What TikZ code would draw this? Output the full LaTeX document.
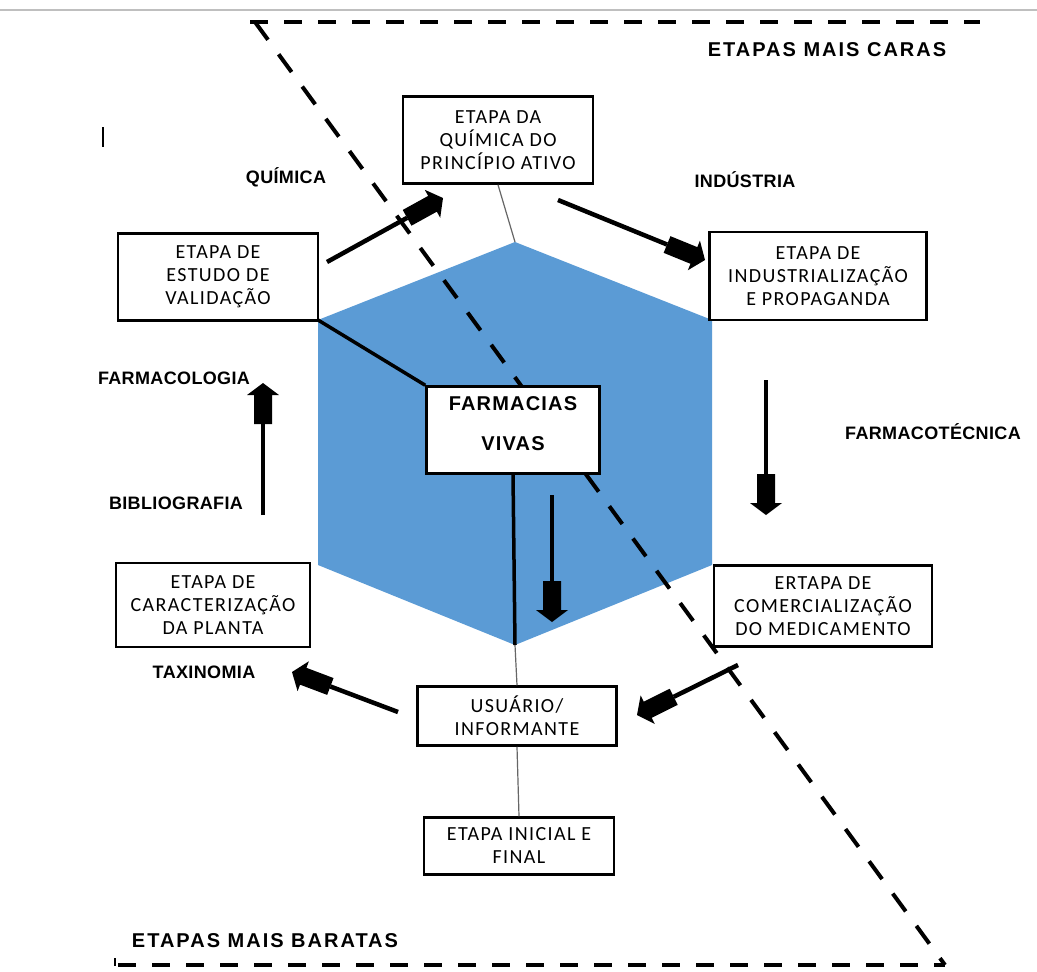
\documentclass[tikz,border=0pt]{standalone}
\usepackage{fontspec}
\setmainfont{Liberation Sans}
\newfontfamily\boxfont[LetterSpace=7]{Carlito}
\newfontfamily\lblfont[LetterSpace=2]{Liberation Sans}
\newfontfamily\toplblfont[LetterSpace=10]{Liberation Sans}
\newfontfamily\fvfont[LetterSpace=6]{Liberation Sans}
\usetikzlibrary{calc}
\definecolor{hexblue}{RGB}{91,155,213}
\newcommand\blockarrow[2]{%
  \coordinate (ba) at ($(#2)!41pt!(#1)$);
  \coordinate (hb) at ($(#2)!12pt!(#1)$);
  \draw[line width=4.5pt] (#1) -- (ba);
  \fill ($(ba)!9pt!90:(#2)$) -- ($(hb)!9pt!-90:(ba)$) -- ($(hb)!16pt!-90:(ba)$) -- (#2)
     -- ($(hb)!16pt!90:(ba)$) -- ($(hb)!9pt!90:(ba)$) -- ($(ba)!9pt!-90:(#2)$) -- cycle;
}
\begin{document}
\begin{tikzpicture}[x=1pt,y=-1pt,
  stage/.style={draw=black,line width=2.5pt,fill=white,align=center,inner sep=0pt,
    font=\boxfont\fontsize{20}{23}\selectfont},
  lbl/.style={font=\lblfont\bfseries\fontsize{18}{20}\selectfont},
  toplbl/.style={font=\toplblfont\bfseries\fontsize{20}{22}\selectfont},
  thinline/.style={draw=black!60,line width=1.2pt},
  thickline/.style={line width=3.5pt},
  dashline/.style={line width=4pt,dash pattern=on 18pt off 16pt}]
\useasboundingbox (0,0) rectangle (1037,972);
\fill[white] (0,0) rectangle (1037,972);
\draw[black!25,line width=1.5pt] (0,10) -- (1037,10);

% hexagon
\coordinate (h1) at (515,242);
\coordinate (h2) at (712,320);
\coordinate (h3) at (712,565);
\coordinate (h4) at (515,645);
\coordinate (h5) at (318,565);
\coordinate (h6) at (318,320);
\fill[hexblue] (h1) -- (h2) -- (h3) -- (h4) -- (h5) -- (h6) -- cycle;

% dashed frame
\coordinate (d1) at (250,22);
\coordinate (d2) at (980,22);
\coordinate (d3) at (255,22);
\coordinate (d4) at (945,965);
\coordinate (d5) at (118,965);
\draw[dashline] (d1) -- (d2);
\draw[dashline,dash pattern=on 22pt off 18pt] (d3) -- (d4);
\draw[dashline] (d5) -- (d4);
\draw[line width=1.5pt] (115,958) -- (115,966);
\draw[line width=1.2pt] (103,127) -- (103,147);

% boxes
\node[stage,minimum width=190pt,minimum height=87pt] (quim) at (498,140) {ETAPA DA\\QUÍMICA DO\\PRINCÍPIO ATIVO};
\node[stage,minimum width=200pt,minimum height=87pt] (val) at (218,277) {ETAPA DE\\ESTUDO DE\\VALIDAÇÃO};
\node[stage,minimum width=217pt,minimum height=88pt] (ind) at (818,276) {ETAPA DE\\INDUSTRIALIZAÇÃO\\E PROPAGANDA};
\node[stage,minimum width=194pt,minimum height=84pt] (car) at (213,605) {ETAPA DE\\CARACTERIZAÇÃO\\DA PLANTA};
\node[stage,minimum width=218pt,minimum height=81pt] (com) at (823,606) {ERTAPA DE\\COMERCIALIZAÇÃO\\DO MEDICAMENTO};
\node[stage,minimum width=199pt,minimum height=59pt] (usu) at (517,716) {USUÁRIO/\\INFORMANTE};
\node[stage,minimum width=190pt,minimum height=57pt] (ini) at (519,846) {ETAPA INICIAL E\\FINAL};

% connector lines
\draw[thinline] (quim.south) -- (h1);
\draw[thinline] (h4) -- (usu.north);
\draw[thinline] (usu.south) -- (ini.north);
\node[stage,minimum width=173pt,minimum height=87pt] (fv) at (513,430) {};
\node[align=center,inner sep=0pt,font=\fvfont\bfseries\fontsize{20}{40}\selectfont] (fvt) at (513,424) {FARMACIAS\\VIVAS};
\draw[thickline] (h6) -- (fv.north west);
\draw[thickline] (fv.south) -- (h4);

% labels
\node[lbl] (lq) at (286,177) {QUÍMICA};
\node[lbl] (li) at (745,180) {INDÚSTRIA};
\node[lbl] (lf) at (174,378) {FARMACOLOGIA};
\node[lbl] (lb) at (176,503) {BIBLIOGRAFIA};
\node[lbl] (lt) at (933,432) {FARMACOTÉCNICA};
\node[lbl] (lx) at (204,672) {TAXINOMIA};
\node[toplbl] (lc) at (827,50) {ETAPAS MAIS CARAS};
\node[toplbl] (lba) at (265,941) {ETAPAS MAIS BARATAS};

% block arrows
\coordinate (a1s) at (327,262); \coordinate (a1e) at (443,198);
\coordinate (a2s) at (558,200); \coordinate (a2e) at (705,260);
\coordinate (a3s) at (766,380); \coordinate (a3e) at (766,515);
\coordinate (a4s) at (552,495); \coordinate (a4e) at (552,622);
\coordinate (a5s) at (738,665); \coordinate (a5e) at (637,715);
\coordinate (a6s) at (398,712); \coordinate (a6e) at (292,672);
\coordinate (a7s) at (263,515); \coordinate (a7e) at (263,383);
\blockarrow{a1s}{a1e}
\blockarrow{a2s}{a2e}
\blockarrow{a3s}{a3e}
\blockarrow{a4s}{a4e}
\blockarrow{a5s}{a5e}
\blockarrow{a6s}{a6e}
\blockarrow{a7s}{a7e}
\end{tikzpicture}
\end{document}
